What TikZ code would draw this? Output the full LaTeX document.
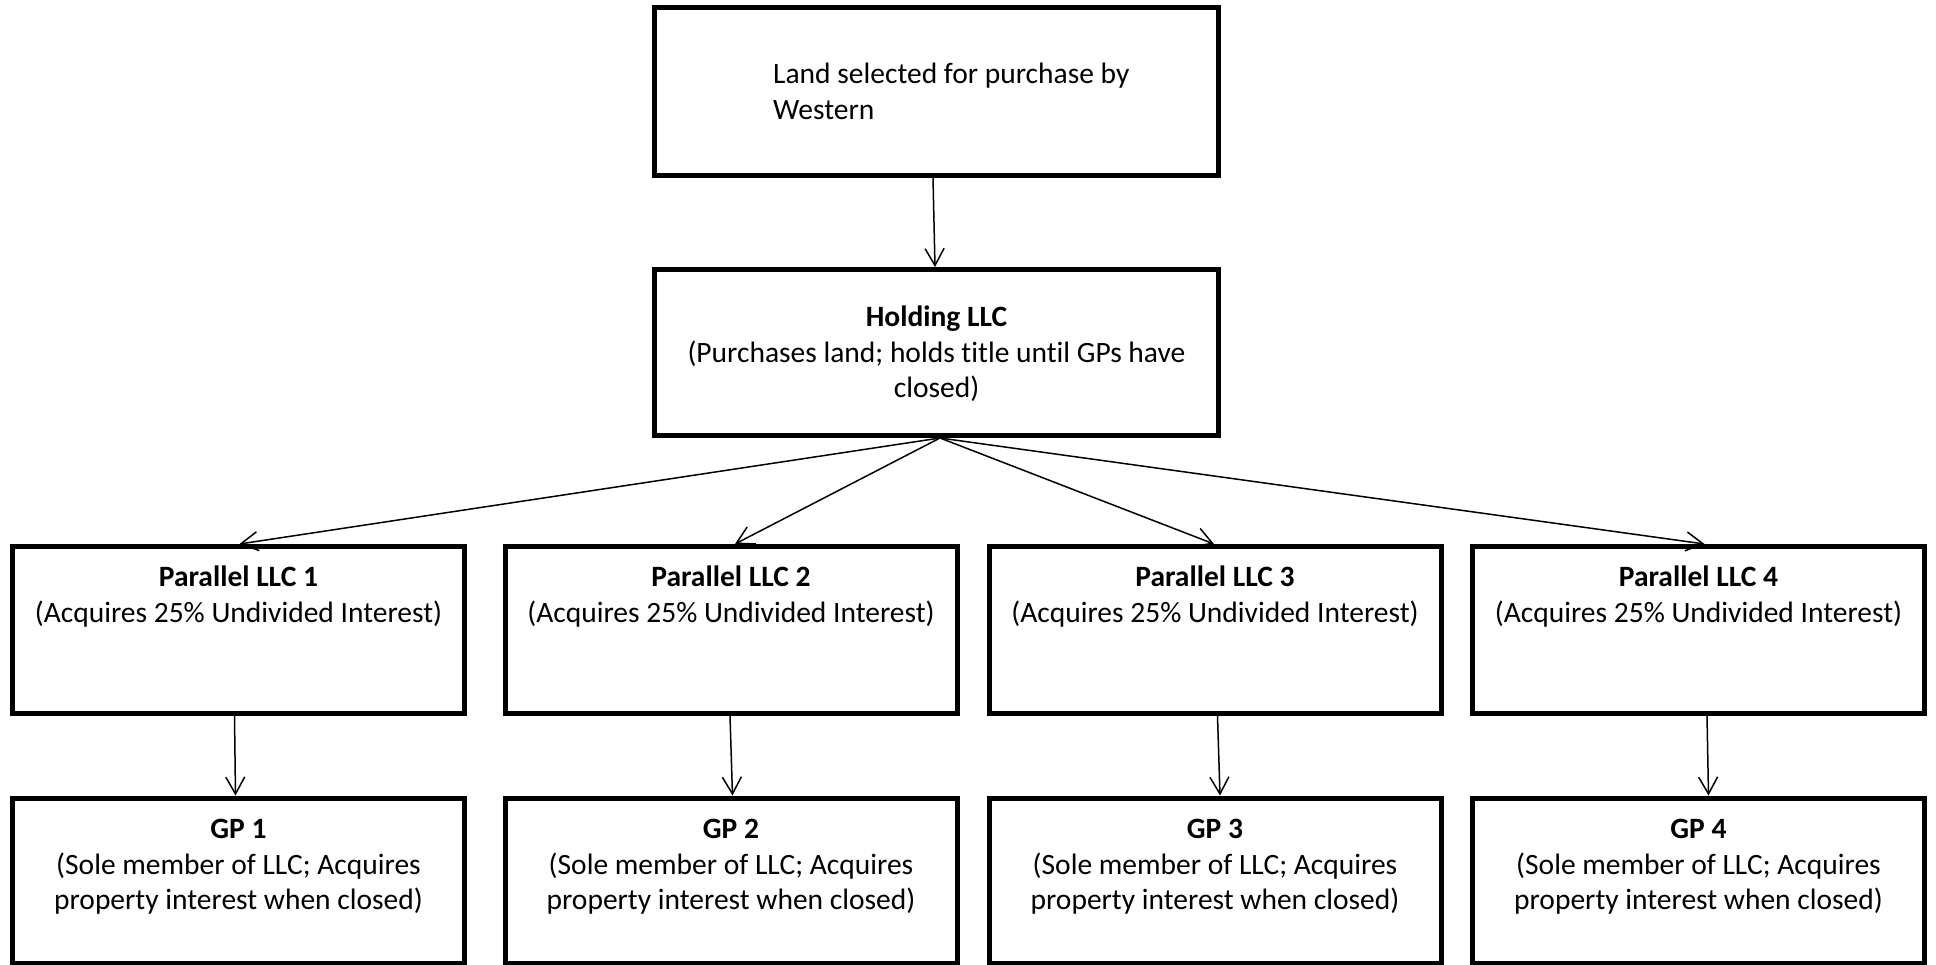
\documentclass[tikz,border=0pt]{standalone}
\usepackage{fontspec}
\setmainfont{Carlito}[Ligatures=NoCommon]
\usetikzlibrary{arrows.meta}
\begin{document}
\begin{tikzpicture}[x=1pt,y=-1pt,
  box/.style={draw, line width=5pt, rectangle, inner sep=0pt, outer sep=2.5pt, anchor=north west},
  wide/.style={box, minimum width=564pt, minimum height=166pt},
  llc/.style={box, minimum width=452pt, minimum height=167pt},
  gpbox/.style={box, minimum width=452pt, minimum height=165pt},
  txt/.style={align=center, inner sep=0pt, font=\fontsize{29.5}{35.5}\selectfont, anchor=base},
  conn/.style={line width=1.5pt, -{Straight Barb[length=17pt,width=19pt,line width=1.5pt]}}]
\useasboundingbox (0,0) rectangle (1936,965);
% boxes
\node[wide, minimum height=167.5pt] (land) at (652,5.5) {};
\node[wide] (hold) at (652,267) {};
\node[llc] (p1) at (10,544) {};
\node[llc] (p2) at (502.5,544) {};
\node[llc] (p3) at (986.5,544) {};
\node[llc] (p4) at (1470,544) {};
\node[gpbox] (g1) at (10,795.5) {};
\node[gpbox] (g2) at (502.5,795.5) {};
\node[gpbox] (g3) at (986.5,795.5) {};
\node[gpbox] (g4) at (1470,795.5) {};
% texts (anchor base = baseline of the last line)
\node[txt, anchor=base west, align=left] (landt) at (773,119.5) {Land selected for purchase by\\Western};
\node[txt] (holdt) at ([yshift=-131pt]hold.north) {\textbf{Holding LLC}\\(Purchases land; holds title until GPs have\\closed)};
\node[txt] (p1t) at ([yshift=-78pt]p1.north) {\textbf{Parallel LLC 1}\\(Acquires 25\% Undivided Interest)};
\node[txt] (p2t) at ([yshift=-78pt]p2.north) {\textbf{Parallel LLC 2}\\(Acquires 25\% Undivided Interest)};
\node[txt] (p3t) at ([yshift=-78pt]p3.north) {\textbf{Parallel LLC 3}\\(Acquires 25\% Undivided Interest)};
\node[txt] (p4t) at ([yshift=-78pt]p4.north) {\textbf{Parallel LLC 4}\\(Acquires 25\% Undivided Interest)};
\node[txt] (g1t) at ([yshift=-114pt]g1.north) {\textbf{GP 1}\\(Sole member of LLC; Acquires\\property interest when closed)};
\node[txt] (g2t) at ([yshift=-114pt]g2.north) {\textbf{GP 2}\\(Sole member of LLC; Acquires\\property interest when closed)};
\node[txt] (g3t) at ([yshift=-114pt]g3.north) {\textbf{GP 3}\\(Sole member of LLC; Acquires\\property interest when closed)};
\node[txt] (g4t) at ([yshift=-114pt]g4.north) {\textbf{GP 4}\\(Sole member of LLC; Acquires\\property interest when closed)};
% connectors
\draw[conn] ([xshift=-3.5pt]land.south) -- ([xshift=-1.5pt]hold.north);
\draw[conn] ([xshift=3.5pt]hold.south) -- ([xshift=1pt]p1.north);
\draw[conn] ([xshift=3.5pt]hold.south) -- ([xshift=4pt]p2.north);
\draw[conn] ([xshift=3.5pt]hold.south) -- ([xshift=-1pt]p3.north);
\draw[conn] ([xshift=3.5pt]hold.south) -- ([xshift=6pt]p4.north);
\draw[conn] ([xshift=-4pt]p1.south) -- ([xshift=-3pt]g1.north);
\draw[conn] ([xshift=-1pt]p2.south) -- ([xshift=1.5pt]g2.north);
\draw[conn] ([xshift=2.5pt]p3.south) -- ([xshift=5pt]g3.north);
\draw[conn] ([xshift=8.5pt]p4.south) -- ([xshift=10pt]g4.north);
\end{tikzpicture}
\end{document}
